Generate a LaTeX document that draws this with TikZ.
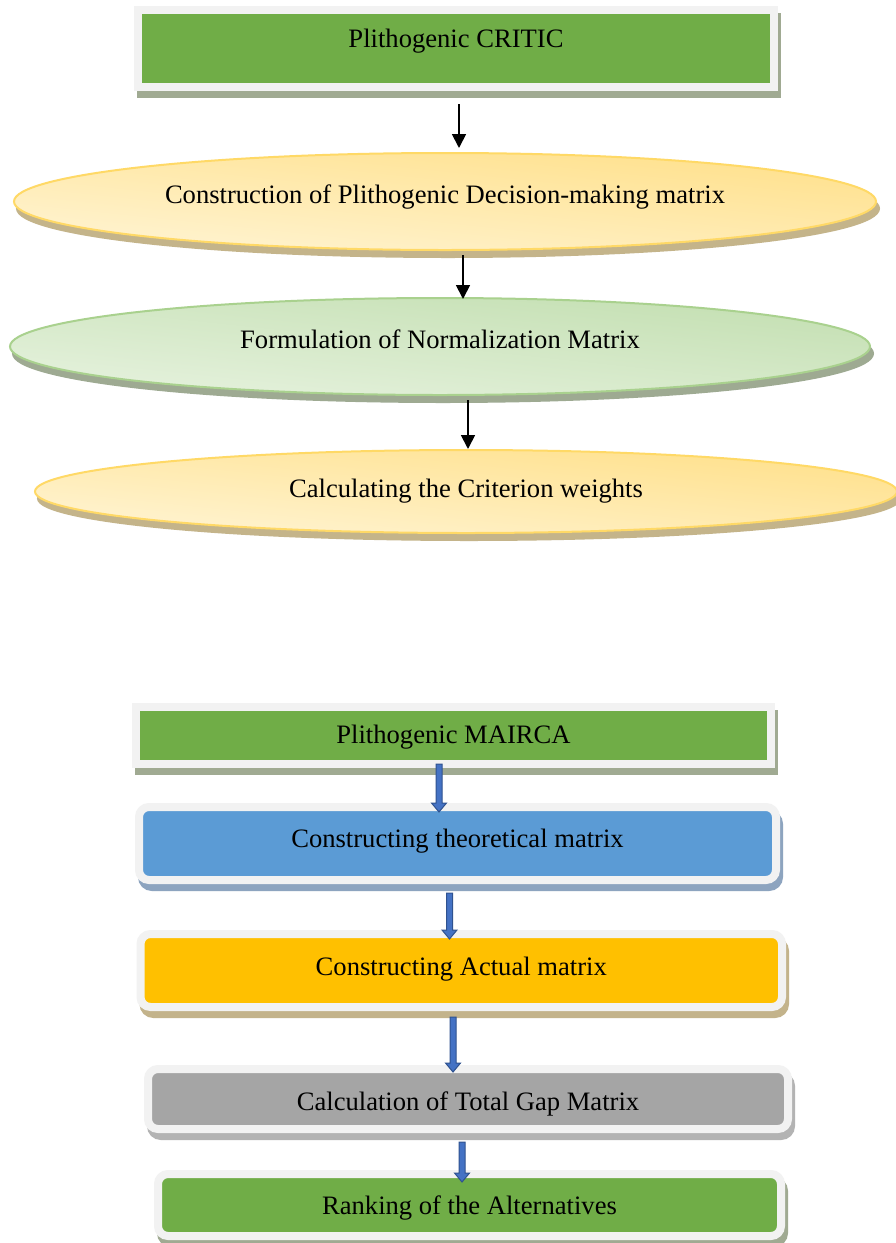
\documentclass[tikz,border=0pt]{standalone}
\usepackage{fontspec}
\setmainfont{Liberation Serif}
\usetikzlibrary{shadows,calc,arrows.meta,shapes.geometric}
\definecolor{gbox}{HTML}{70AD47}
\definecolor{frameC}{HTML}{F2F2F2}
\definecolor{gshadow}{HTML}{A0AA92}
\definecolor{bbox}{HTML}{5B9BD5}
\definecolor{bshadow}{HTML}{8DA4BF}
\definecolor{ybox}{HTML}{FFC000}
\definecolor{yshadow}{HTML}{C3B38B}
\definecolor{graybox}{HTML}{A5A5A5}
\definecolor{grshadow}{HTML}{B3B3B3}
\definecolor{yeLine}{HTML}{FFD966}
\definecolor{yeDark}{HTML}{FFE08A}
\definecolor{yeLight}{HTML}{FFF4D3}
\definecolor{yeShadow}{HTML}{C4B48A}
\definecolor{geLine}{HTML}{A9D18E}
\definecolor{geDark}{HTML}{C3DFB1}
\definecolor{geLight}{HTML}{E6F2DE}
\definecolor{geShadow}{HTML}{9EAA92}
\definecolor{blueL}{HTML}{4472C4}
\definecolor{blueD}{HTML}{2F528F}
\newcommand\blockarrow[2]{%
  \path let \p1=#1, \p2=#2 in
    [draw=blueD, fill=blueL, line width=1pt, line join=miter]
    (\x1-3pt,\y1) -- (\x1-3pt,\y2+9pt) -- (\x1-7.5pt,\y2+9pt) -- (\x1,\y2)
    -- (\x1+7.5pt,\y2+9pt) -- (\x1+3pt,\y2+9pt) -- (\x1+3pt,\y1) -- cycle;}
\begin{document}
\begin{tikzpicture}[x=1pt,y=-1pt,
  lbl/.style={font=\fontsize{26.6}{30}\selectfont, text=black},
  framebox/.style={lbl, rectangle, draw=frameC, line width=8pt, inner sep=0pt},
  rframe/.style={framebox, rounded corners=10pt},
  sh/.style={drop shadow={shadow xshift=3pt, shadow yshift=-7pt, fill=#1, draw=#1, line width=8pt, opacity=1}},
  ellsh/.style={drop shadow={shadow xshift=3pt, shadow yshift=-7pt, fill=#1, draw=#1, line width=2pt, opacity=1}},
  ell/.style={lbl, ellipse, line width=2pt, inner sep=0pt},
  blackarrow/.style={-{Triangle[width=14pt,length=14pt]}, line width=1.8pt, black},
  tb/.style 2 args={text height=#1, text depth=#2}
]
\useasboundingbox[fill=white] (0,0) rectangle (896,1243);

% ---------- Plithogenic CRITIC ----------
\node[framebox, fill=gbox, sh=gshadow, minimum width=636pt, minimum height=77pt, tb={0pt}{2.4pt}]
  (c0) at (456,48.5) {Plithogenic CRITIC};
\node[ell, draw=yeLine, top color=yeDark, bottom color=yeLight, shading angle=-6, ellsh=yeShadow,
  minimum width=862pt, minimum height=97pt, tb={3pt}{0pt}]
  (e1) at (445,201.5) {Construction of Plithogenic Decision-making matrix};
\node[ell, draw=geLine, top color=geDark, bottom color=geLight, shading angle=-6, ellsh=geShadow,
  minimum width=860pt, minimum height=97pt, tb={3pt}{0pt}]
  (e2) at (440,346.5) {Formulation of Normalization Matrix};
\node[ell, draw=yeLine, top color=yeDark, bottom color=yeLight, shading angle=-6, ellsh=yeShadow,
  minimum width=862pt, minimum height=83pt, tb={11pt}{0pt}]
  (e3) at (466,491.5) {Calculating the Criterion weights};

\coordinate (k1) at (459,0);
\coordinate (k2) at (463,0);
\coordinate (k3) at (468,0);
\draw[blackarrow, shorten <=13pt, shorten >=4pt] (k1 |- c0.south) -- (k1 |- e1.north);
\draw[blackarrow, shorten <=4pt, shorten >=-2pt] (k2 |- e1.south) -- (k2 |- e2.north);
\draw[blackarrow, shorten <=4pt] (k3 |- e2.south) -- (k3 |- e3.north);

% ---------- Plithogenic MAIRCA ----------
\node[framebox, fill=gbox, sh=gshadow, minimum width=635pt, minimum height=57pt, tb={15pt}{0pt}]
  (m0) at (453.5,735.5) {Plithogenic MAIRCA};
\node[rframe, fill=bbox, sh=bshadow, minimum width=637pt, minimum height=73pt, tb={7pt}{0pt}]
  (m1) at (457.5,843.5) {Constructing theoretical matrix};
\node[rframe, fill=ybox, sh=yshadow, minimum width=641.5pt, minimum height=73pt, tb={9pt}{0pt}]
  (m2) at (461.25,970.5) {Constructing Actual matrix};
\node[rframe, fill=graybox, sh=grshadow, minimum width=640pt, minimum height=60pt, tb={22pt}{0pt}]
  (m3) at (468,1099) {Calculation of Total Gap Matrix};
\node[rframe, fill=gbox, sh=gshadow, minimum width=623pt, minimum height=62pt, tb={18pt}{0pt}]
  (m4) at (469.5,1205) {Ranking of the Alternatives};

\coordinate (b1) at (439,0);
\coordinate (b2) at (449.5,0);
\coordinate (b3) at (453,0);
\coordinate (b4) at (462,0);
\blockarrow{($(b1 |- m0.south)+(0,-4)$)}{($(b1 |- m1.north)+(0,9)$)}
\blockarrow{($(b2 |- m1.south)+(0,9)$)}{($(b2 |- m2.north)+(0,9)$)}
\blockarrow{($(b3 |- m2.south)+(0,6)$)}{($(b3 |- m3.north)+(0,7)$)}
\blockarrow{($(b4 |- m3.south)+(0,9)$)}{($(b4 |- m4.north)+(0,12)$)}
\end{tikzpicture}
\end{document}
